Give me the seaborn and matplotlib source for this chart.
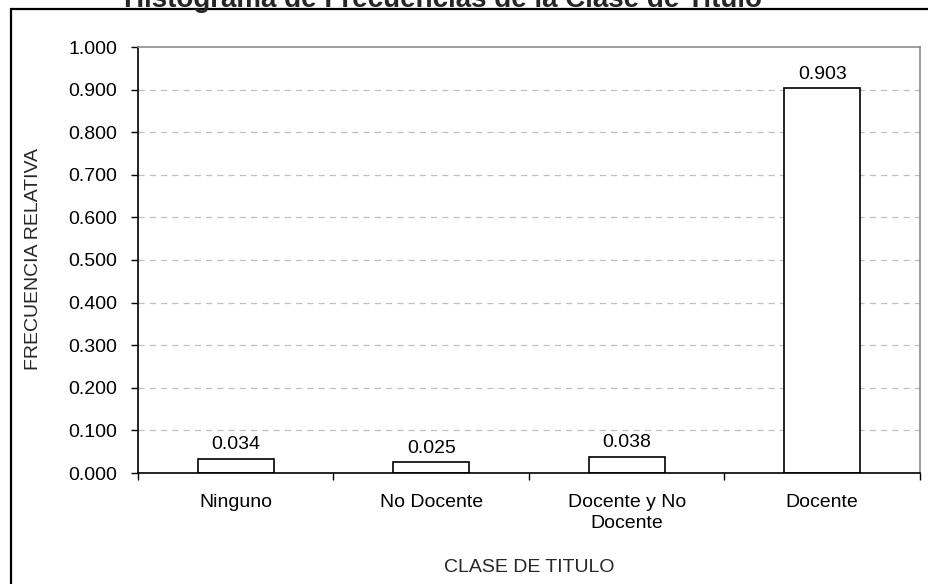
import matplotlib
matplotlib.use("Agg")
import matplotlib.pyplot as plt
import seaborn as sns
import pandas as pd
from matplotlib.patches import Rectangle
from matplotlib.ticker import FixedLocator

categories = ["Ninguno", "No Docente", "Docente y No\nDocente", "Docente"]
values = [0.034, 0.025, 0.038, 0.903]
value_labels = ["0.034", "0.025", "0.038", "0.903"]
y_ticks = [0.0, 0.1, 0.2, 0.3, 0.4, 0.5, 0.6, 0.7, 0.8, 0.9, 1.0]
title = "Histograma de Frecuencias de la Clase de Titulo"
xlabel = "CLASE DE TITULO"
ylabel = "FRECUENCIA RELATIVA"

sns.set_theme(style="white")
plt.rcParams["font.family"] = ["Liberation Sans", "DejaVu Sans"]

W, H = 929, 584
fig = plt.figure(figsize=(W / 100, H / 100), dpi=100)
L, R, T, B = 138, 920, 47, 473
ax = fig.add_axes([L / W, 1 - B / H, (R - L) / W, (B - T) / H])

df = pd.DataFrame({"cat": categories, "val": values})
sns.barplot(data=df, x="cat", y="val", order=categories, color="white",
            edgecolor="black", linewidth=1.2, width=0.39, ax=ax, saturation=1)
for p in ax.patches:
    p.set_facecolor("white")

FS = 14
ax.set_xlim(-0.5, 3.5)
ax.set_ylim(0, 1.0)
ax.set_yticks(y_ticks)
ax.set_yticklabels([f"{v:.3f}" for v in y_ticks], fontsize=FS)
ax.set_xticks(range(len(categories)))
ax.set_xticklabels(categories, fontsize=FS, linespacing=1.3)
ax.xaxis.set_minor_locator(FixedLocator([-0.5, 0.5, 1.5, 2.5, 3.5]))
ax.tick_params(axis="x", which="major", length=0, pad=15, colors="black")
ax.tick_params(axis="x", which="minor", length=5, width=1, color="black", direction="out", bottom=True)
ax.tick_params(axis="y", which="major", length=5, width=1, color="black", direction="out", left=True, pad=10, colors="black")

for v in y_ticks[1:-1]:
    ax.axhline(v, color="#c0c0c0", linestyle=(0, (5, 4)), linewidth=0.9, zorder=0)

for s in ["left", "bottom"]:
    ax.spines[s].set_color("black")
    ax.spines[s].set_linewidth(1.2)
for s in ["top", "right"]:
    ax.spines[s].set_visible(True)
    ax.spines[s].set_color("#8c8c8c")
    ax.spines[s].set_linewidth(1.2)

for i, (v, lab) in enumerate(zip(values, value_labels)):
    ax.annotate(lab, (i, v), xytext=(0, 4), textcoords="offset points",
                ha="center", va="bottom", fontsize=FS, color="black")

ax.set_xlabel("")
ax.set_ylabel("")
fig.text((L + R) / 2 / W, 1 - 567 / H, xlabel, ha="center", va="center", fontsize=FS)
fig.text(34 / W, 1 - 259 / H, ylabel, ha="center", va="center", rotation=90, fontsize=FS)
fig.text(443 / W, 1 - 7 / H, title, ha="center", va="baseline", fontsize=20, fontweight="bold")

fig.patches.append(Rectangle((11 / W, -0.1), 1.2, 1 - 9 / H + 0.1, transform=fig.transFigure,
                             fill=False, edgecolor="black", linewidth=1.6))

fig.savefig("out.png", dpi=100)
